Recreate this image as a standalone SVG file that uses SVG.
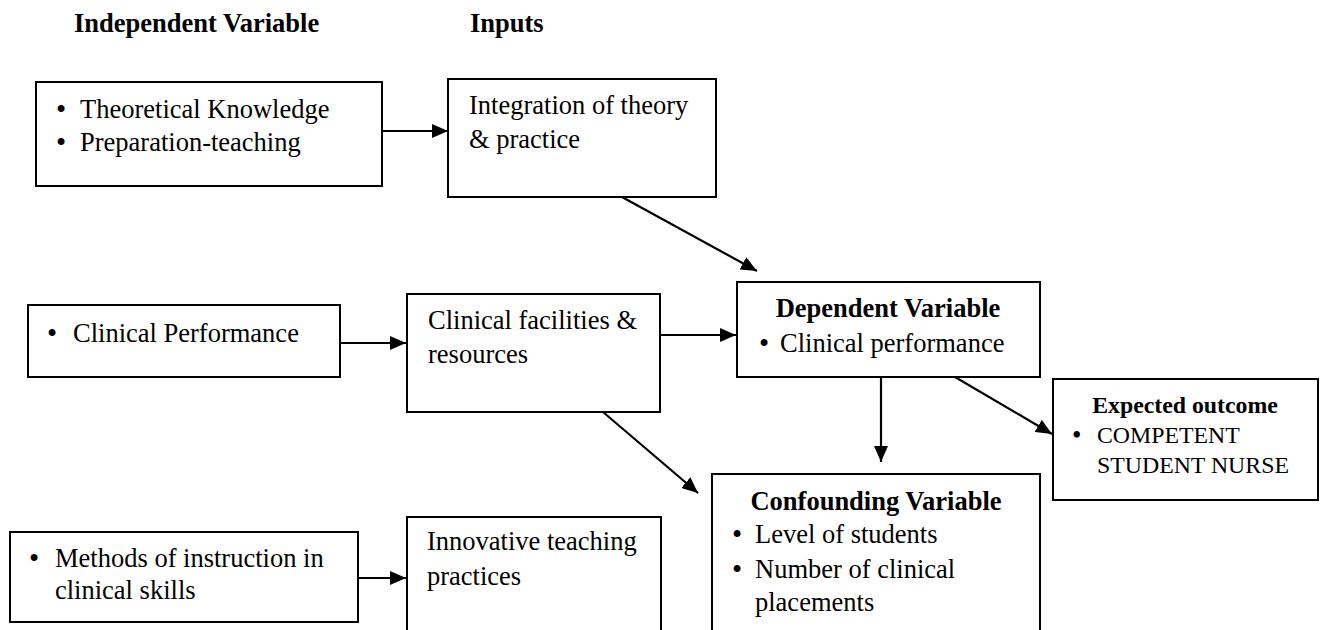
<svg xmlns="http://www.w3.org/2000/svg" width="1322" height="630" viewBox="0 0 1322 630">
<style>
text{font-family:"Liberation Serif","Times New Roman",serif;font-size:26.5px;fill:#000}
.b{font-weight:bold}
.s{font-size:23.8px}
.d{font-size:29px}
.ds{font-size:27px}
.box{fill:#fff;stroke:#000;stroke-width:2}
.c{stroke:#000;stroke-width:2.2;fill:none;marker-end:url(#ah)}
</style>
<defs>
<marker id="ah" markerUnits="userSpaceOnUse" markerWidth="16" markerHeight="14" refX="16" refY="7" orient="auto">
<path d="M0,0 L16,7 L0,14 z" fill="#000"/>
</marker>
</defs>
<rect width="1322" height="630" fill="#fff"/>
<text class="b" x="74" y="32">Independent Variable</text>
<text class="b" x="470" y="32">Inputs</text>

<g id="connectors">
<line class="c" x1="383" y1="131" x2="448" y2="131"/>
<line class="c" x1="622" y1="197" x2="757" y2="271"/>
<line class="c" x1="340" y1="343" x2="406" y2="343"/>
<line class="c" x1="660" y1="335" x2="736" y2="335"/>
<line class="c" x1="603" y1="412" x2="698" y2="493"/>
<line class="c" x1="881" y1="377" x2="881" y2="462"/>
<line class="c" x1="955" y1="377" x2="1052" y2="434"/>
<line class="c" x1="358" y1="578" x2="406" y2="578"/>
</g>

<g id="theoretical">
<rect class="box" x="36" y="82" width="346" height="104"/>
<text class="d" x="56" y="119">•</text><text x="80" y="118">Theoretical Knowledge</text>
<text class="d" x="56" y="152">•</text><text x="80" y="151">Preparation-teaching</text>
</g>

<g id="integration">
<rect class="box" x="448" y="79" width="268" height="118"/>
<text x="469" y="114">Integration of theory</text>
<text x="469" y="148">&amp; practice</text>
</g>

<g id="clinical-performance">
<rect class="box" x="28" y="305" width="312" height="72"/>
<text class="d" x="47" y="343">•</text><text x="73" y="342">Clinical Performance</text>
</g>

<g id="facilities">
<rect class="box" x="407" y="294" width="253" height="118"/>
<text x="428" y="329">Clinical facilities &amp;</text>
<text x="428" y="363">resources</text>
</g>

<g id="dependent">
<rect class="box" x="737" y="282" width="303" height="95"/>
<text class="b" x="888" y="317" text-anchor="middle">Dependent Variable</text>
<text class="d" x="759" y="353">•</text><text x="780" y="352">Clinical performance</text>
</g>

<g id="expected">
<rect class="box" x="1053" y="379" width="265" height="121"/>
<text class="b s" x="1185" y="413" text-anchor="middle">Expected outcome</text>
<text class="ds" x="1072" y="444">•</text><text class="s" x="1097" y="443">COMPETENT</text>
<text class="s" x="1097" y="473">STUDENT NURSE</text>
</g>

<g id="confounding">
<rect class="box" x="712" y="474" width="328" height="200"/>
<text class="b" x="876" y="510" text-anchor="middle">Confounding Variable</text>
<text class="d" x="732" y="544">•</text><text x="755" y="543">Level of students</text>
<text class="d" x="732" y="579">•</text><text x="755" y="578">Number of clinical</text>
<text x="755" y="611">placements</text>
</g>

<g id="methods">
<rect class="box" x="10" y="532" width="348" height="90"/>
<text class="d" x="29" y="568">•</text><text x="55" y="567">Methods of instruction in</text>
<text x="55" y="599">clinical skills</text>
</g>

<g id="innovative">
<rect class="box" x="407" y="517" width="254" height="160"/>
<text x="427" y="550">Innovative teaching</text>
<text x="427" y="585">practices</text>
</g>
</svg>
